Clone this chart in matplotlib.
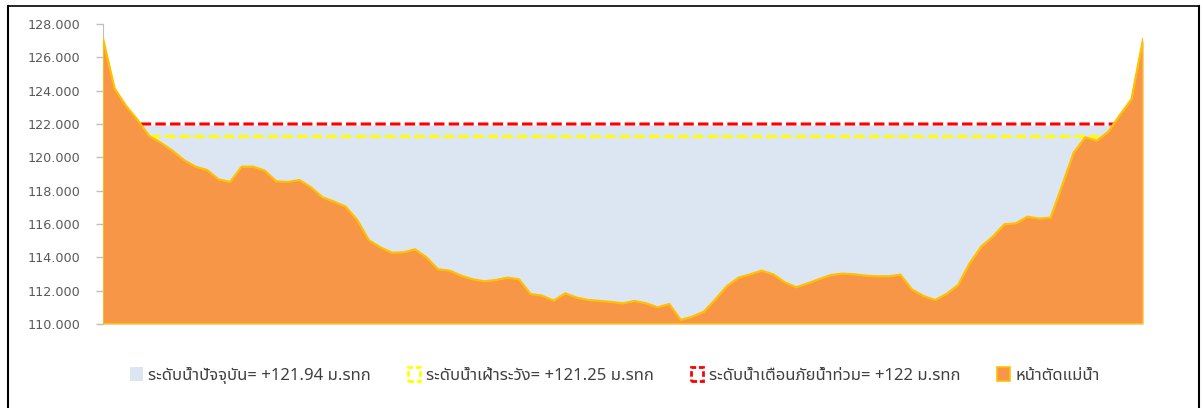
import matplotlib
matplotlib.use("Agg")
import numpy as np
import matplotlib.pyplot as plt
from matplotlib import font_manager as fm
from matplotlib.lines import Line2D
from matplotlib.patches import Patch

# ground profile (หน้าตัดแม่น้ำ), metres above MSL, equally spaced stations
ground = [127.14, 124.14, 123.08, 122.24, 121.28, 120.88, 120.40, 119.84, 119.44, 119.24,
          118.68, 118.52, 119.44, 119.44, 119.20, 118.56, 118.52, 118.64, 118.20, 117.60,
          117.34, 117.04, 116.24, 115.04, 114.60, 114.28, 114.30, 114.48, 114.00, 113.28,
          113.20, 112.90, 112.68, 112.56, 112.64, 112.78, 112.68, 111.80, 111.70, 111.40,
          111.84, 111.58, 111.44, 111.38, 111.32, 111.24, 111.38, 111.24, 111.00, 111.20,
          110.24, 110.44, 110.74, 111.48, 112.28, 112.78, 112.98, 113.20, 112.98, 112.50,
          112.20, 112.44, 112.70, 112.94, 113.02, 112.98, 112.90, 112.86, 112.86, 112.96,
          112.08, 111.68, 111.44, 111.80, 112.34, 113.64, 114.64, 115.24, 115.98, 116.04,
          116.44, 116.32, 116.38, 118.30, 120.28, 121.20, 121.00, 121.54, 122.54, 123.48,
          127.08]
water_level = 121.94
watch_level = 121.25
flood_level = 122.0

labels = ['ระดับน้ำปัจจุบัน= +121.94 ม.รทก',
          'ระดับน้ำเฝ้าระวัง= +121.25 ม.รทก',
          'ระดับน้ำเตือนภัยน้ำท่วม= +122 ม.รทก',
          'หน้าตัดแม่น้ำ']
yticks = np.arange(110, 129, 2)

# pick a Thai capable font
names = {f.name for f in fm.fontManager.ttflist}
thai = 'DejaVu Sans'
for cand in ['Noto Sans Thai', 'IBM Plex Sans Thai', 'Anuphan', 'Sarabun']:
    if cand in names:
        thai = cand
        break
thai_family = [thai, 'Noto Sans', 'DejaVu Sans']

W, H = 1203, 408
fig = plt.figure(figsize=(W / 100, H / 100), dpi=100)
ax = fig.add_axes([103 / W, 1 - 324 / H, 1040 / W, 300 / H])

x = np.arange(len(ground))
g = np.array(ground)

ax.fill_between(x, g, water_level, where=g < water_level, interpolate=True,
                color='#DCE6F2', lw=0, zorder=1)

# dashed levels only over the water section
xf = np.linspace(0, x[-1], 4000)
gf = np.interp(xf, x, g)
for lvl, col in [(flood_level, '#FF0000'), (watch_level, '#FFFF00')]:
    yl = np.where(gf <= lvl, lvl, np.nan)
    ax.plot(xf, yl, color=col, lw=2.2, dashes=(3.4, 1.4), zorder=2)

ax.fill_between(x, 110, g, color='#F79646', lw=0, zorder=3)
ax.plot(x, g, color='#FFC000', lw=1.6, zorder=4)
ax.plot([x[0], x[-1]], [110, 110], color='#FFC000', lw=1.6, zorder=4)
ax.plot([x[0], x[0]], [110, g[0]], color='#FFC000', lw=1.2, zorder=4)
ax.plot([x[-1], x[-1]], [110, g[-1]], color='#FFC000', lw=1.2, zorder=4)

ax.set_xlim(0, x[-1])
ax.set_ylim(110, 128)
ax.set_yticks(yticks)
ax.set_yticklabels(['%.3f' % v for v in yticks])
ax.set_xticks([])
for s in ['top', 'right', 'bottom']:
    ax.spines[s].set_visible(False)
ax.spines['left'].set_color('#BFBFBF')
ax.spines['left'].set_zorder(0)
ax.tick_params(axis='y', colors='#BFBFBF', labelcolor='#595959', length=5,
               width=1, labelsize=9.2, pad=11.5)

handles = [Patch(facecolor='#DCE6F2', edgecolor='none'),
           Patch(facecolor='none', edgecolor='#FFFF00', lw=2, linestyle=(0, (2, 1))),
           Patch(facecolor='none', edgecolor='#FF0000', lw=2, linestyle=(0, (2, 1))),
           Patch(facecolor='#F79646', edgecolor='#FFC000', lw=1.2)]
leg = fig.legend(handles, labels, loc='center', bbox_to_anchor=(615 / W, 1 - 375 / H),
                 ncol=4, frameon=False, handlelength=0.75, handleheight=0.95,
                 handletextpad=0.35, columnspacing=2.2,
                 prop={'family': thai_family, 'size': 12})
for t in leg.get_texts():
    t.set_color('#404040')

# outer frame of the screenshot
frame = dict(transform=fig.transFigure, color='black', lw=1.5)
fig.add_artist(Line2D([7.5 / W, 7.5 / W], [0, 1 - 6 / H], **frame))
fig.add_artist(Line2D([7.5 / W, 1199 / W], [1 - 6 / H, 1 - 6 / H], lw=1.2,
                      transform=fig.transFigure, color='black'))
fig.add_artist(Line2D([1199 / W, 1199 / W], [0, 1 - 6 / H], **frame))

fig.savefig('out.png', dpi=100)
